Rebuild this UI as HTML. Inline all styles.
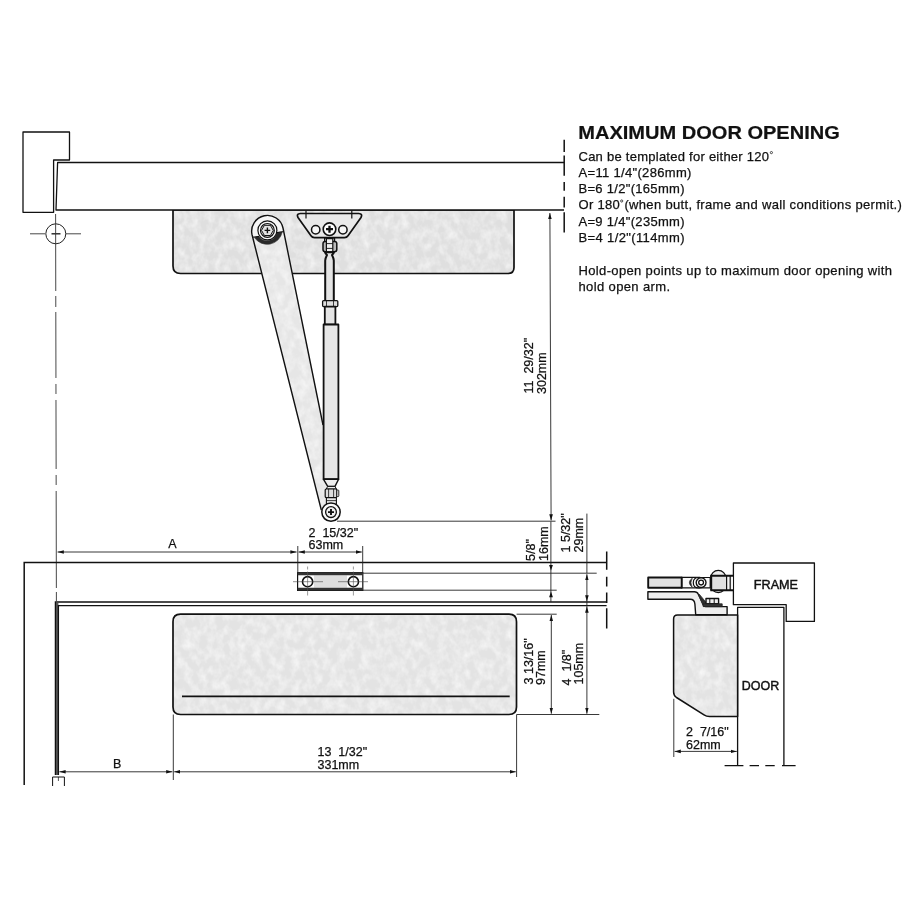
<!DOCTYPE html>
<html>
<head>
<meta charset="utf-8">
<title>Maximum Door Opening</title>
<style>
html,body{margin:0;padding:0;background:#fff;}
body{width:910px;height:910px;overflow:hidden;font-family:"Liberation Sans",sans-serif;}
svg{display:block;filter:blur(0.35px);}
text{font-family:"Liberation Sans",sans-serif;fill:#111;stroke:#111;stroke-width:0.25px;}
.t{font-size:12.5px;}
.n{font-size:13px;}
</style>
</head>
<body>
<svg width="910" height="910" viewBox="0 0 910 910">
<defs>
<marker id="ah" markerWidth="8" markerHeight="6" refX="6.2" refY="3" orient="auto-start-reverse" markerUnits="userSpaceOnUse"><path d="M0,1.2 L6.2,3 L0,4.8 Z" fill="#111"/></marker>
<filter id="mot" x="0" y="0" width="100%" height="100%" color-interpolation-filters="sRGB">
<feTurbulence type="fractalNoise" baseFrequency="0.13 0.1" numOctaves="3" seed="7" result="n"/>
<feColorMatrix in="n" type="matrix" values="0 0 0 0 1  0 0 0 0 1  0 0 0 0 1  1.2 0 0 0 -0.42" result="w"/>
<feComposite in="w" in2="SourceAlpha" operator="in" result="wc"/>
<feMerge><feMergeNode in="SourceGraphic"/><feMergeNode in="wc"/></feMerge>
</filter>
</defs>
<rect width="910" height="910" fill="#fff"/>

<!-- ================= TOP VIEW ================= -->
<g fill="none" stroke="#111" stroke-width="1.3" stroke-linejoin="round" stroke-linecap="butt">
<!-- closer body (top view) -->
<path d="M173,210 H514 V267.5 Q514,273.5 508,273.5 H180.5 Q173,273.5 173,266 Z" fill="#dfdfdf" stroke="none" filter="url(#mot)"/>
<path d="M173,210 H514 V267.5 Q514,273.5 508,273.5 H180.5 Q173,273.5 173,266 Z" stroke-width="1.7"/>
<!-- frame block -->
<path d="M23,132 H69.5 V160 H53.6 V212.3 H23 Z" fill="#fff"/>
<!-- door -->
<path d="M564,162.5 H57.6 L56,210 H564" fill="#fff"/>
</g>

<!-- hinge centre mark -->
<g fill="none" stroke="#333" stroke-width="0.9">
<circle cx="55.8" cy="233.8" r="10" stroke="#222" stroke-width="1"/>
<path d="M30,233.8 H45 M66,233.8 H81" />
<path d="M51.5,233.8 H60.5" stroke-width="1.4" stroke="#222"/>
<path d="M55.6,214 L56.4,602" stroke-dasharray="77 5 11 5 66 6 10 6 69 6 10 6 97 4 9 4"/>
</g>

<!-- dashed line at door end -->
<g stroke="#111" stroke-width="1.5" fill="none">
<path d="M564.2,139.7 V152 M564.2,155.5 V175.7 M564.2,182 V190.7 M564.2,196.8 V207.4 M564.2,212.3 V232.4"/>
</g>

<!-- arm -->
<g stroke="#111" stroke-width="1.3" stroke-linejoin="round" fill="none">
<path d="M252,234.5 A15.7,15.7 0 1 1 283,228 L323,425 H331 V512 L321.3,510 Z" fill="#e6e6e6" stroke="none" filter="url(#mot)"/>
<!-- arm end cap -->
<path d="M252.6,237.2 A15.7,15.7 0 1 1 283.1,231.6 L277,232.6 L258.6,237.4 Z" fill="#f6f6f6" stroke="none"/>
<path d="M254.5,237.6 A15.3,15.3 0 0 0 282.2,232 L276.8,232.6 A9.7,9.7 0 0 1 259,236.2 Z" fill="#2a2a2a" stroke="#2a2a2a" stroke-width="0.6"/>
<path d="M252.8,237.2 L259,236.4 M283.2,231.6 L276.8,232.6" stroke-width="1"/>
<circle cx="267.4" cy="230.4" r="9.5" fill="#fafafa" stroke-width="1.2"/>
<circle cx="267.4" cy="230.4" r="6.9" fill="#eee" stroke-width="1.2"/>
<path d="M261.5,230.4 L264.4,225.3 H270.4 L273.3,230.4 L270.4,235.5 H264.4 Z" stroke-width="1" fill="#e4e4e4"/>
<path d="M264.6,230.4 H270.2 M267.4,227.6 V233.2" stroke-width="1.4"/>
<path d="M321.3,510 L252,234.5 A15.7,15.7 0 1 1 283,228 L323,425" stroke-width="1.4"/>
</g>

<!-- bracket -->
<g stroke="#111" stroke-width="1.7" stroke-linejoin="round" fill="none">
<path d="M300.5,213.5 H358.6 Q363,213.6 361,217.5 L348,235.8 Q346.8,237.6 344.5,237.6 H314.5 Q312.2,237.6 311,235.8 L298,217.5 Q296,213.6 300.5,213.5 Z" fill="#e9e9e9"/>
<path d="M306,210.4 V218.4 M351.8,210.4 V218.4" stroke-width="1.2"/>
<circle cx="315.7" cy="229.7" r="4.2" fill="#f6f6f6" stroke-width="1.5"/>
<circle cx="342.9" cy="229.7" r="4.2" fill="#f6f6f6" stroke-width="1.5"/>
<circle cx="329.5" cy="229.2" r="6.3" fill="#fff" stroke-width="1.6"/>
<path d="M326,229.2 H333 M329.5,225.7 V232.7" stroke-width="2.3"/>
</g>

<!-- rod -->
<g stroke="#111" stroke-linejoin="round" fill="#e0e0e0">
<!-- clevis -->
<rect x="324.6" y="238.2" width="10" height="4" stroke-width="1.2" fill="#ddd"/>
<rect x="323" y="241.4" width="13.8" height="10.4" rx="2.2" stroke-width="1.5" fill="#bbb"/>
<rect x="326.4" y="238.6" width="6.4" height="13.2" stroke-width="1.2" fill="#f0f0f0"/>
<path d="M326.4,243.6 H332.8 M326.4,248.4 H332.8" stroke-width="0.9" fill="none"/>
<path d="M325,252.2 Q325.2,253.6 327,255 Q325.4,258 325.2,260.5 V301 H333.8 V260.5 Q333.6,258 332,255 Q333.8,253.6 334,252.2 Z" stroke-width="2" fill="#e4e4e4"/>
<!-- nut -->
<rect x="322.6" y="300.6" width="15.2" height="6" rx="1" stroke-width="1.3" fill="#ddd"/>
<path d="M326.5,300.6 V306.6 M333.5,300.6 V306.6" stroke-width="0.8"/>
<!-- thin tube -->
<rect x="324.8" y="306.6" width="10.6" height="18" stroke-width="1.8" fill="#e4e4e4"/>
<!-- main tube -->
<rect x="323.6" y="324.5" width="14.8" height="154.7" stroke-width="1.8" fill="#e6e6e6"/>
<!-- taper -->
<path d="M323.4,479.2 H338.6 L335,486.4 H327.7 Z" stroke-width="1.4" fill="#eee"/>
<!-- lower nut -->
<path d="M327.7,486.4 H335 L336.4,489 H326.2 Z" stroke-width="1" fill="#eee"/>
<rect x="325.2" y="489" width="11.6" height="8.6" rx="1" stroke-width="1.2" fill="#ddd"/>
<rect x="336.8" y="490" width="2" height="6.6" rx="0.8" stroke-width="0.9" fill="#eee"/>
<path d="M328.6,489 V497.6 M333.6,489 V497.6" stroke-width="0.8"/>
<rect x="326.4" y="497.6" width="10" height="6.6" stroke-width="1.1" fill="#e8e8e8"/>
<path d="M326.4,500.6 H336.4" stroke-width="0.8"/>
<!-- eye -->
<circle cx="331" cy="512.1" r="9.2" stroke-width="1.5" fill="#fafafa"/>
<circle cx="331" cy="512.1" r="5.4" stroke-width="1.3" fill="#f0f0f0"/>
<path d="M328,512.1 H334 M331,509.1 V515.1" stroke-width="1.9"/>
</g>

<!-- dimension lines, top view -->
<g stroke="#222" stroke-width="0.9" fill="none">
<path d="M337,521.2 H555.5"/>
<path d="M549.9,213 L551.1,520.4" marker-start="url(#ah)" marker-end="url(#ah)"/>
</g>
<text class="t" transform="translate(533,393.5) rotate(-90)">11&#160;&#160;29/32"</text>
<text class="t" transform="translate(546.4,394) rotate(-90)">302mm</text>

<!-- ================= FRONT VIEW ================= -->
<g fill="none" stroke="#111" stroke-width="1.3" stroke-linejoin="miter">
<!-- outer frame -->
<path d="M24.2,785 V562.6 H606.6" stroke-width="1.5"/>
<!-- door double line -->
<path d="M56.9,775 V603" stroke="#555" stroke-width="3"/>
<path d="M55.4,775 V602 H606.6"/>
<path d="M58.4,775 V605.6 H606.6"/>
<!-- bottom bracket -->
<path d="M52.6,786 V777 H64.4 V786" stroke-width="1"/>
<path d="M58.4,777 V781" stroke-width="0.7"/>
<!-- closer body -->
<path d="M180.5,614.2 H509 Q516.5,614.2 516.5,621.7 V707 Q516.5,714.5 509,714.5 H180.5 Q173,714.5 173,707 V621.7 Q173,614.2 180.5,614.2 Z" fill="#e3e3e3" stroke="none" filter="url(#mot)"/>
<path d="M180.5,614.2 H509 Q516.5,614.2 516.5,621.7 V707 Q516.5,714.5 509,714.5 H180.5 Q173,714.5 173,707 V621.7 Q173,614.2 180.5,614.2 Z" stroke-width="1.7"/>
<path d="M182,696.3 H509.7" stroke-width="1.8"/>
</g>

<!-- mounting bracket front view -->
<g stroke="#111" fill="none">
<rect x="297.6" y="572.7" width="65.2" height="17.7" fill="#fff" stroke-width="1.2"/>
<rect x="314" y="575.4" width="33" height="12.3" fill="#dedede" stroke="none"/>
<path d="M297.6,574 H362.8 M297.6,589.1 H362.8" stroke="#333" stroke-width="2.6"/>
<circle cx="307.6" cy="581.7" r="5.1" fill="#fff" stroke-width="1.6"/>
<circle cx="353.4" cy="581.7" r="5.1" fill="#fff" stroke-width="1.6"/>
<path d="M293,581.7 H323 M338,581.7 H368" stroke="#444" stroke-width="0.6"/>
<path d="M307.6,566.5 V597 M353.4,566.5 V597" stroke="#555" stroke-width="0.6" stroke-dasharray="3 2 24 2 3"/>
</g>

<!-- dimensions front view -->
<g stroke="#222" stroke-width="0.9" fill="none">
<!-- A -->
<path d="M57.6,552 H296.6" marker-start="url(#ah)" marker-end="url(#ah)"/>
<!-- 63mm -->
<path d="M298.6,552 H361.8" marker-start="url(#ah)" marker-end="url(#ah)"/>
<path d="M297.8,546 V572.7 M362.7,546 V572.7"/>
<!-- bracket ext lines -->
<path d="M362.8,573.2 H596.7 M362.8,590.2 H556.7"/>
<!-- body top ext -->
<path d="M516.6,614.2 H556.7"/>
<!-- body bottom ext -->
<path d="M516.6,714.5 H599.3"/>
<!-- body side ext -->
<path d="M173.3,714.5 V780 M516.6,714.5 V777"/>
<!-- B -->
<path d="M59.4,771.8 H172.4" marker-start="url(#ah)" marker-end="url(#ah)"/>
<!-- 331 -->
<path d="M174.2,771.8 H515.8" marker-start="url(#ah)" marker-end="url(#ah)"/>
<!-- vertical dims -->
<path d="M550.9,521.5 V602"/>
<path d="M551.3,615 V713.7" marker-start="url(#ah)" marker-end="url(#ah)"/>
<path d="M586.9,513.6 V573.2"/>
<path d="M586.9,574.2 V601.4" marker-start="url(#ah)" marker-end="url(#ah)"/>
<path d="M586.9,601.4 V606.6"/>
<path d="M586.9,606.6 V713.7" marker-start="url(#ah)" marker-end="url(#ah)"/>
</g>
<path d="M549.1,565 H552.9 L551,570.6 Z M549.1,597.2 H552.9 L551,591.4 Z" fill="#111"/>
<!-- dash-dot vertical at right end -->
<path d="M606.7,551.4 V569.7 M606.7,576.7 V586.5 M606.7,592.5 V602.9 M606.7,608.3 V628.6" stroke="#111" stroke-width="1.5" fill="none"/>

<text class="t" x="168.3" y="547.5">A</text>
<text class="t" x="113" y="768">B</text>
<text class="t" x="308.5" y="536.8">2&#160;&#160;15/32"</text>
<text class="t" x="308.5" y="549.4">63mm</text>
<text class="t" x="317.5" y="756">13&#160;&#160;1/32"</text>
<text class="t" x="317.5" y="768.7">331mm</text>
<text class="t" transform="translate(535,561) rotate(-90)">5/8"</text>
<text class="t" transform="translate(548,561) rotate(-90)">16mm</text>
<text class="t" transform="translate(570.3,552.5) rotate(-90)">1 5/32"</text>
<text class="t" transform="translate(583,552.5) rotate(-90)">29mm</text>
<text class="t" transform="translate(533,684.5) rotate(-90)">3 13/16"</text>
<text class="t" transform="translate(545,685) rotate(-90)">97mm</text>
<text class="t" transform="translate(570.5,685.5) rotate(-90)">4&#160;&#160;1/8"</text>
<text class="t" transform="translate(582.8,684.5) rotate(-90)">105mm</text>

<!-- ================= SIDE VIEW ================= -->
<g stroke="#111" stroke-width="1.3" fill="none" stroke-linejoin="round">
<!-- frame -->
<path d="M733.4,563 H814.4 V621.4 H786.2 V604.7 H733.4 Z" fill="#fff"/>
<!-- door -->
<path d="M737.6,765.6 V607.4 H783.9 V765.6" fill="#fff"/>
<!-- closer body side -->
<path d="M677.5,615 H737.6 V716.5 H709.5 Q706.5,716.5 704,714.8 L676.5,697.5 Q673.6,695.5 673.6,692 V619 Q673.6,615 677.5,615 Z" fill="#e3e3e3" stroke="none" filter="url(#mot)"/>
<path d="M677.5,615 H737.6 V716.5 H709.5 Q706.5,716.5 704,714.8 L676.5,697.5 Q673.6,695.5 673.6,692 V619 Q673.6,615 677.5,615 Z" stroke-width="1.5"/>
<!-- arm shoe: lower bar + bend + foot -->
<path d="M647.9,591.8 H694.4 Q697.2,591.8 698.3,594.2 L703.5,605.3 Q704.1,606.6 705.6,606.6 H727.1 V614.8 H695.7 L694.9,604 Q694.4,599.3 690.2,599.3 H647.9 Z" fill="#ededed" stroke-width="1.4"/>
<!-- gusset -->
<path d="M699.3,594.2 L707,603.6 L706.4,606.4 H703.6 L698.6,595.2 Z" fill="#2e2e2e" stroke="#2e2e2e" stroke-width="0.8"/>
<!-- bolt -->
<rect x="706" y="598.5" width="12.6" height="5.2" fill="#efefef" stroke-width="1.4"/>
<path d="M709.8,598.5 V603.7 M714.2,598.5 V603.7" stroke-width="1"/>
<rect x="703.2" y="603.8" width="19" height="2.8" fill="#333" stroke="#222" stroke-width="0.8"/>
<!-- top bar -->
<path d="M681.7,577.4 H700 V587.9 H681.7 Z" fill="#fafafa" stroke-width="1.1"/>
<rect x="648.2" y="577.5" width="33.5" height="10.3" fill="#e2e2e2" stroke-width="1.9"/>
<path d="M692.2,578.2 Q686.6,582.7 692.2,587.2 Q689.6,582.7 692.2,578.2 Z" fill="#222" stroke="#222" stroke-width="0.7"/>
<path d="M710.2,577.5 H698.6 Q693.3,577.5 693.3,582.65 Q693.3,587.8 698.6,587.8 H710.2 Z" fill="#fafafa" stroke-width="1.2"/>
<circle cx="701.1" cy="582.6" r="4.9" fill="#fff" stroke-width="1.4"/>
<circle cx="701.1" cy="582.6" r="2.4" fill="#fff" stroke-width="1.3"/>
<!-- roller + block -->
<rect x="710.7" y="570.4" width="15.2" height="22.2" rx="7.6" fill="#eee" stroke-width="1.3"/>
<rect x="712" y="576" width="15" height="14" fill="#e0e0e0" stroke="none"/>
<rect x="727" y="576" width="6" height="14" fill="#f4f4f4" stroke="none"/>
<path d="M710.3,575.8 H733.2 M710.3,590.2 H733.2" stroke-width="2.1"/>
<path d="M711.2,575.8 V590.2" stroke-width="2"/>
<path d="M726.6,575.8 V590.2 M730.2,575.8 V590.2" stroke-width="1.2"/>
</g>
<text class="n" x="753.8" y="588.7" style="stroke-width:0.45px" textLength="44.2" lengthAdjust="spacingAndGlyphs">FRAME</text>
<text class="n" x="741.8" y="690.4" style="stroke-width:0.45px" textLength="37.4" lengthAdjust="spacingAndGlyphs">DOOR</text>
<g stroke="#222" stroke-width="0.9" fill="none">
<path d="M673.8,698.8 V757"/>
<path d="M674.6,751.4 H736.8" marker-start="url(#ah)" marker-end="url(#ah)"/>
</g>
<path d="M724.6,765.6 H743.4 M749.6,765.6 H759 M765.3,765.6 H774.7 M782,765.6 H795.6" stroke="#111" stroke-width="1.3" fill="none"/>
<text class="t" x="686" y="736">2&#160;&#160;7/16"</text>
<text class="t" x="686" y="749">62mm</text>

<!-- ================= TEXT BLOCK ================= -->
<text x="578.3" y="139.3" style="font-size:19px;font-weight:bold;stroke-width:0.2px" textLength="261.5" lengthAdjust="spacingAndGlyphs">MAXIMUM DOOR OPENING</text>
<g class="n">
<text x="578.5" y="160.8" textLength="190.5" lengthAdjust="spacing">Can be templated for either 120</text>
<text x="578.5" y="176.9" textLength="112.9" lengthAdjust="spacing">A=11 1/4"(286mm)</text>
<text x="578.5" y="192.8" textLength="106" lengthAdjust="spacing">B=6 1/2"(165mm)</text>
<text x="578.5" y="209.2" textLength="41.2" lengthAdjust="spacing">Or 180</text>
<text x="624.4" y="209.2" textLength="277.5" lengthAdjust="spacing">(when butt, frame and wall conditions permit.)</text>
<text x="578.5" y="226" textLength="106.1" lengthAdjust="spacing">A=9 1/4"(235mm)</text>
<text x="578.5" y="242.2" textLength="106" lengthAdjust="spacing">B=4 1/2"(114mm)</text>
<text x="578.5" y="275.3" textLength="313.5" lengthAdjust="spacing">Hold-open points up to maximum door opening with</text>
<text x="578.5" y="290.5" textLength="91.6" lengthAdjust="spacing">hold open arm.</text>
</g>
<g fill="none" stroke="#222" stroke-width="0.8">
<circle cx="771.4" cy="152.6" r="1.1"/>
<circle cx="621.7" cy="201" r="1.1"/>
</g>
</svg>
</body>
</html>
